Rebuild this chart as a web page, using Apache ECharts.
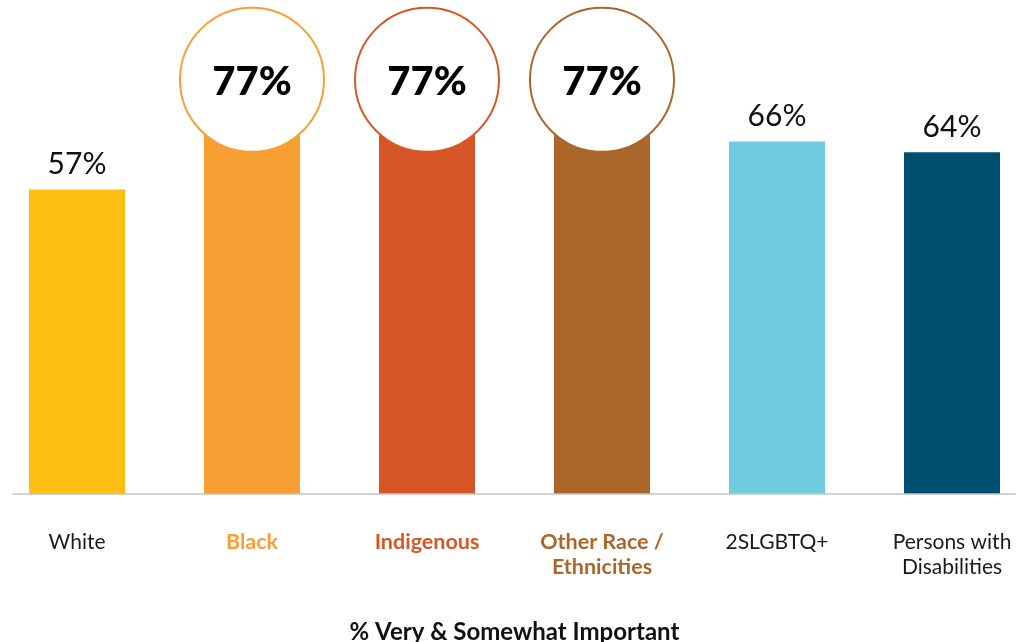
<!DOCTYPE html>
<html>
<head>
<meta charset="utf-8">
<script src="https://cdn.jsdelivr.net/npm/echarts@6/dist/echarts.min.js"></script>
<style>
  html, body { margin: 0; padding: 0; background: #fff; }
  #chart { width: 1016px; height: 642px; }
</style>
</head>
<body>
<div id="chart"></div>
<script>
// chart data
const categories = ["White", "Black", "Indigenous", "Other Race /\nEthnicities", "2SLGBTQ+", "Persons with\nDisabilities"];
const values = [57, 77, 77, 77, 66, 64];
const barColors = ["#FCBE11", "#F89F33", "#D75627", "#AB672A", "#6FCCDF", "#004F71"];
const highlighted = [false, true, true, true, false, false];
const axisTitle = "% Very & Somewhat Important";

const FONT = "Lato, 'Noto Sans', sans-serif";

const chart = echarts.init(document.getElementById("chart"));

const option = {
  animation: false,
  grid: {
    left: -10.5,
    width: 1050,
    top: -40,
    bottom: 148,
    containLabel: false,
    outerBoundsMode: "none",
  },
  xAxis: {
    type: "category",
    data: categories,
    axisLine: { show: false },
    axisTick: { show: false },
    axisLabel: {
      interval: 0,
      margin: 36,
      fontFamily: FONT,
      fontSize: 21,
      lineHeight: 25,
      color: (val, idx) => (highlighted[idx] ? barColors[idx] : "#1a1a1a"),
      fontWeight: 400,
      formatter: (val, idx) => (highlighted[idx] ? "{b|" + val + "}" : val),
      rich: {
        b: { fontWeight: 700, fontFamily: FONT, fontSize: 21.5, lineHeight: 25 },
      },
    },
    name: axisTitle,
    nameLocation: "middle",
    nameGap: 126,
    nameTextStyle: {
      fontFamily: FONT,
      fontSize: 24,
      fontWeight: 700,
      color: "#111",
    },
  },
  yAxis: {
    type: "value",
    min: 0,
    max: 100,
    show: false,
  },
  series: [
    {
      type: "bar",
      barWidth: 96,
      data: values.map((v, i) => ({
        value: v,
        itemStyle: { color: barColors[i] },
        label: {
          show: !highlighted[i],
          position: "top",
          distance: 10,
          formatter: "{c}%",
          fontFamily: FONT,
          fontSize: 30,
          color: "#111",
        },
      })),
    },
    {
      type: "scatter",
      symbol: "circle",
      symbolSize: 144,
      symbolOffset: [0, -3],
      z: 5,
      itemStyle: { opacity: 1 },
      data: values.map((v, i) =>
        highlighted[i]
          ? {
              value: v,
              itemStyle: { color: "#fff", opacity: 1, borderColor: barColors[i], borderWidth: 2 },
              label: {
                show: true,
                position: "inside",
                offset: [0, 2],
                formatter: "{c}%",
                fontFamily: FONT,
                fontSize: 40,
                fontWeight: 900,
                color: "#000",
              },
            }
          : "-"
      ),
    },
  ],
};

chart.setOption(option);

// baseline running from the left edge of the plot to the page edge
const y0 = chart.convertToPixel({ yAxisIndex: 0 }, 0);
chart.setOption({
  graphic: [
    {
      type: "line",
      shape: { x1: 12.5, y1: y0, x2: 1016, y2: y0 },
      style: { stroke: "#c4c4c4", lineWidth: 1.5 },
      z: 10,
    },
  ],
});
</script>
</body>
</html>
